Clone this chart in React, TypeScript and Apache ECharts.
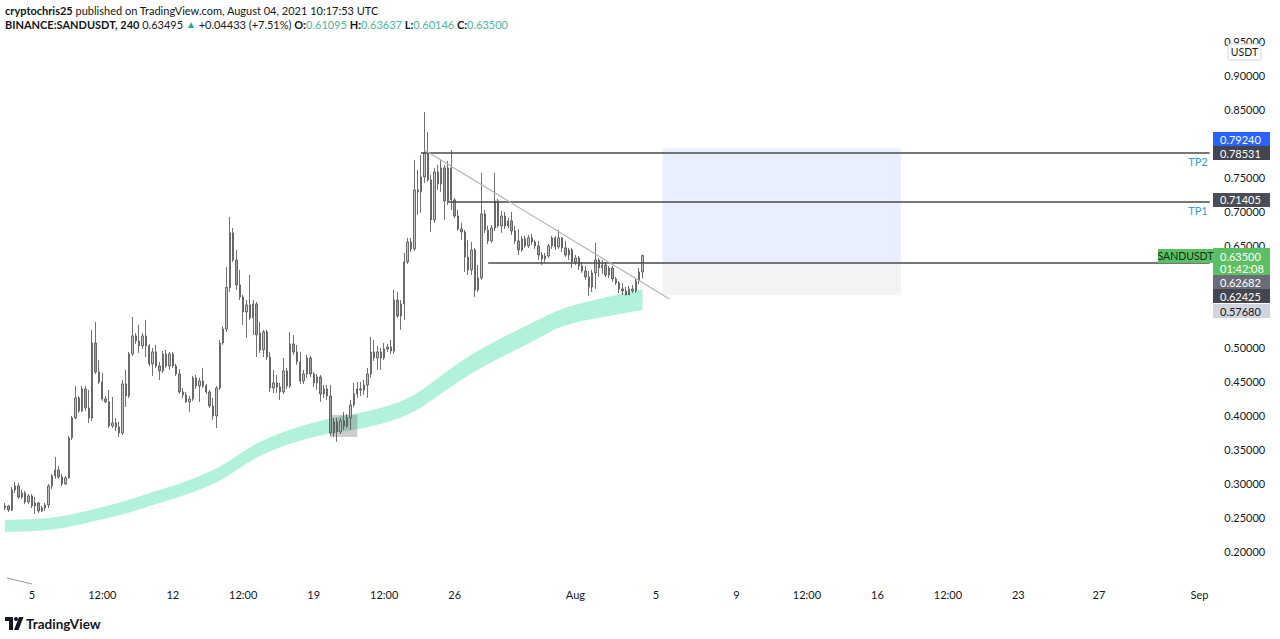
import React, { useEffect, useRef } from "react";
import * as echarts from "echarts";

// ---------- data ----------
const FIRST_CANDLE_UTC = Date.UTC(2021, 6, 3, 16, 0); // 4h candles
const SLOT_COUNT = 360;

const TIME_TICKS: [string, string][] = [
  ["2021-07-05 00:00", "5"],
  ["2021-07-08 12:00", "12:00"],
  ["2021-07-12 00:00", "12"],
  ["2021-07-15 12:00", "12:00"],
  ["2021-07-19 00:00", "19"],
  ["2021-07-22 12:00", "12:00"],
  ["2021-07-26 00:00", "26"],
  ["2021-08-01 00:00", "Aug"],
  ["2021-08-05 00:00", "5"],
  ["2021-08-09 00:00", "9"],
  ["2021-08-12 12:00", "12:00"],
  ["2021-08-16 00:00", "16"],
  ["2021-08-19 12:00", "12:00"],
  ["2021-08-23 00:00", "23"],
  ["2021-08-27 00:00", "27"],
  ["2021-09-01 00:00", "Sep"],
];

// price-axis levels hidden behind the price tags
const HIDDEN_LEVELS = [0.8, 0.6, 0.55];

// [open, close, low, high]
const CANDLES: number[][] = [
  [0.2645, 0.2675, 0.2616, 0.2719], [0.2675, 0.2616, 0.2587, 0.269], [0.2616, 0.291, 0.2601, 0.2954], [0.291, 0.2969, 0.2866, 0.3028],
  [0.2969, 0.2807, 0.2778, 0.3013], [0.2807, 0.2866, 0.2778, 0.291], [0.2866, 0.2734, 0.2704, 0.2896], [0.2734, 0.2822, 0.2704, 0.2851],
  [0.2822, 0.2675, 0.2645, 0.2851], [0.2675, 0.2719, 0.2557, 0.2807], [0.2719, 0.2601, 0.2572, 0.2734], [0.2601, 0.2645, 0.2587, 0.2675],
  [0.2645, 0.269, 0.2601, 0.2719], [0.269, 0.2969, 0.2645, 0.2998], [0.2969, 0.3116, 0.2925, 0.3145], [0.3116, 0.3204, 0.3072, 0.3395],
  [0.3204, 0.3101, 0.3072, 0.3263], [0.3101, 0.2998, 0.2969, 0.3145], [0.2998, 0.3087, 0.2984, 0.3116], [0.3087, 0.3674, 0.3072, 0.3703],
  [0.3674, 0.3967, 0.3644, 0.3996], [0.3967, 0.4261, 0.3952, 0.4437], [0.4261, 0.407, 0.404, 0.429], [0.407, 0.4393, 0.4055, 0.4437],
  [0.4393, 0.4114, 0.407, 0.4437], [0.4114, 0.3967, 0.3894, 0.4378], [0.3967, 0.5068, 0.3923, 0.5259], [0.5068, 0.4642, 0.4613, 0.5376],
  [0.4642, 0.4496, 0.4466, 0.4818], [0.4496, 0.4246, 0.4217, 0.4628], [0.4246, 0.4202, 0.4187, 0.429], [0.4202, 0.385, 0.382, 0.4378],
  [0.385, 0.3894, 0.382, 0.4275], [0.3894, 0.3835, 0.3776, 0.3967], [0.3835, 0.3747, 0.3688, 0.3908], [0.3747, 0.4466, 0.3718, 0.4525],
  [0.4466, 0.429, 0.4129, 0.4672], [0.429, 0.4906, 0.4261, 0.4936], [0.4906, 0.5171, 0.4877, 0.545], [0.5171, 0.5097, 0.5053, 0.5215],
  [0.5097, 0.5024, 0.4921, 0.5332], [0.5024, 0.5171, 0.498, 0.5215], [0.5171, 0.5024, 0.4862, 0.5406], [0.5024, 0.476, 0.473, 0.5053],
  [0.476, 0.4936, 0.4584, 0.4994], [0.4936, 0.473, 0.4701, 0.5039], [0.473, 0.4657, 0.4525, 0.4789], [0.4657, 0.4906, 0.4628, 0.495],
  [0.4906, 0.473, 0.4701, 0.4965], [0.473, 0.4906, 0.4672, 0.4936], [0.4906, 0.473, 0.4701, 0.4936], [0.473, 0.4613, 0.4584, 0.476],
  [0.4613, 0.4349, 0.4319, 0.4686], [0.4349, 0.4305, 0.4261, 0.4407], [0.4305, 0.4202, 0.4187, 0.4349], [0.4202, 0.4246, 0.4055, 0.429],
  [0.4246, 0.4554, 0.4217, 0.4584], [0.4554, 0.4437, 0.4393, 0.4598], [0.4437, 0.451, 0.4202, 0.4554], [0.451, 0.4437, 0.4407, 0.4701],
  [0.4437, 0.4349, 0.4319, 0.4466], [0.4349, 0.4143, 0.4114, 0.4378], [0.4143, 0.3996, 0.3938, 0.4261], [0.3996, 0.4407, 0.382, 0.4437],
  [0.4407, 0.5068, 0.4378, 0.5112], [0.5068, 0.5273, 0.5039, 0.5317], [0.5273, 0.5881, 0.5229, 0.6184], [0.5881, 0.6683, 0.5817, 0.6918],
  [0.6683, 0.6286, 0.6257, 0.6756], [0.6286, 0.5919, 0.5846, 0.6433], [0.5919, 0.5743, 0.5699, 0.614], [0.5743, 0.5523, 0.5332, 0.5773],
  [0.5523, 0.5626, 0.5141, 0.5699], [0.5626, 0.5435, 0.5406, 0.6066], [0.5435, 0.564, 0.5185, 0.5699], [0.564, 0.5185, 0.4862, 0.567],
  [0.5215, 0.4965, 0.4921, 0.5376], [0.4965, 0.5229, 0.4862, 0.5259], [0.5229, 0.4862, 0.4818, 0.5259], [0.4862, 0.4407, 0.4349, 0.4936],
  [0.4407, 0.4481, 0.4334, 0.4672], [0.4481, 0.4422, 0.4334, 0.4598], [0.4422, 0.4349, 0.4231, 0.4481], [0.4349, 0.4657, 0.4319, 0.4848],
  [0.4657, 0.4437, 0.4393, 0.4701], [0.4437, 0.5053, 0.4407, 0.5229], [0.5053, 0.4936, 0.4892, 0.5185], [0.4936, 0.4789, 0.4745, 0.5039],
  [0.4789, 0.451, 0.4466, 0.4936], [0.451, 0.4613, 0.4466, 0.4672], [0.4613, 0.4848, 0.4554, 0.4892], [0.4848, 0.4613, 0.4569, 0.4877],
  [0.4613, 0.4481, 0.4422, 0.4642], [0.4481, 0.4569, 0.4378, 0.4613], [0.4569, 0.4319, 0.4202, 0.4598], [0.4319, 0.4393, 0.4261, 0.4451],
  [0.4393, 0.429, 0.4231, 0.4451], [0.429, 0.3747, 0.3703, 0.4451], [0.3747, 0.3908, 0.3688, 0.3967], [0.3908, 0.3762, 0.3615, 0.3967],
  [0.3762, 0.3923, 0.3732, 0.3967], [0.3923, 0.385, 0.3791, 0.4055], [0.385, 0.3967, 0.382, 0.4026], [0.3967, 0.4158, 0.3791, 0.4231],
  [0.4158, 0.4319, 0.4129, 0.4481], [0.4319, 0.4393, 0.4261, 0.4496], [0.4393, 0.4378, 0.429, 0.4496], [0.4378, 0.4451, 0.4305, 0.4525],
  [0.4451, 0.4613, 0.4261, 0.4701], [0.4613, 0.4936, 0.4554, 0.5156], [0.4936, 0.4848, 0.4804, 0.5112], [0.4848, 0.4936, 0.4672, 0.5024],
  [0.4936, 0.4848, 0.4672, 0.4994], [0.4848, 0.498, 0.4818, 0.5068], [0.498, 0.5009, 0.4936, 0.5053], [0.5009, 0.495, 0.4906, 0.5112],
  [0.495, 0.5699, 0.4906, 0.5846], [0.5699, 0.5464, 0.5435, 0.5817], [0.5464, 0.564, 0.5259, 0.5699], [0.564, 0.6257, 0.5406, 0.6389],
  [0.6257, 0.6551, 0.6228, 0.661], [0.6551, 0.6448, 0.6404, 0.661], [0.6448, 0.7314, 0.6419, 0.7755], [0.7314, 0.7285, 0.6947, 0.7608],
  [0.7285, 0.7505, 0.6977, 0.7828], [0.7505, 0.7857, 0.7417, 0.8458], [0.7857, 0.7461, 0.7432, 0.8165], [0.7461, 0.6874, 0.6697, 0.7534],
  [0.6874, 0.7578, 0.6829, 0.7637], [0.7578, 0.7402, 0.7314, 0.7681], [0.7402, 0.7637, 0.7285, 0.7755], [0.7637, 0.7152, 0.6874, 0.7681],
  [0.7152, 0.7637, 0.7094, 0.774], [0.7637, 0.7167, 0.7021, 0.7901], [0.7167, 0.6932, 0.6903, 0.7196], [0.6932, 0.6741, 0.6712, 0.7021],
  [0.6741, 0.6697, 0.658, 0.6829], [0.6697, 0.633, 0.611, 0.6727], [0.633, 0.614, 0.6066, 0.658], [0.614, 0.6433, 0.6066, 0.6551],
  [0.6433, 0.5846, 0.5743, 0.6463], [0.5846, 0.6022, 0.5817, 0.6213], [0.6022, 0.6962, 0.5993, 0.7563], [0.6962, 0.6727, 0.6683, 0.7021],
  [0.6727, 0.6566, 0.6521, 0.6786], [0.6566, 0.6756, 0.6536, 0.68], [0.6756, 0.7152, 0.6712, 0.7563], [0.7152, 0.6786, 0.6756, 0.7182],
  [0.6786, 0.6932, 0.6683, 0.7006], [0.6932, 0.6786, 0.6741, 0.6991], [0.6786, 0.6859, 0.6756, 0.6903], [0.6859, 0.6712, 0.6653, 0.6991],
  [0.6712, 0.6566, 0.6521, 0.6786], [0.6566, 0.6433, 0.636, 0.6741], [0.6433, 0.6595, 0.6404, 0.6639], [0.6595, 0.6492, 0.6463, 0.6639],
  [0.6492, 0.661, 0.6463, 0.6653], [0.661, 0.6551, 0.6507, 0.6668], [0.6551, 0.6492, 0.6448, 0.658], [0.6492, 0.636, 0.6286, 0.6566],
  [0.636, 0.6301, 0.6213, 0.6404], [0.6301, 0.6345, 0.6257, 0.6389], [0.6345, 0.6492, 0.6316, 0.6521], [0.6492, 0.661, 0.6448, 0.6639],
  [0.661, 0.6478, 0.6433, 0.6639], [0.6478, 0.661, 0.6448, 0.6727], [0.661, 0.6463, 0.6404, 0.6624], [0.6463, 0.636, 0.633, 0.6566],
  [0.636, 0.6433, 0.6286, 0.6463], [0.6433, 0.6257, 0.6169, 0.6463], [0.6257, 0.6316, 0.6213, 0.636], [0.6316, 0.6198, 0.614, 0.6345],
  [0.6198, 0.6125, 0.6096, 0.6257], [0.6125, 0.6037, 0.5993, 0.6198], [0.6037, 0.589, 0.576, 0.6125], [0.589, 0.6096, 0.5817, 0.614],
  [0.6096, 0.6286, 0.5861, 0.6536], [0.6286, 0.6169, 0.6037, 0.6316], [0.6169, 0.6213, 0.6081, 0.6286], [0.6213, 0.6066, 0.6037, 0.6257],
  [0.6066, 0.6169, 0.6022, 0.6198], [0.6169, 0.6008, 0.5963, 0.6198], [0.6008, 0.5949, 0.5919, 0.6037], [0.5949, 0.5861, 0.5802, 0.5978],
  [0.5861, 0.5832, 0.5773, 0.5949], [0.5832, 0.5773, 0.5768, 0.589], [0.5773, 0.5861, 0.579, 0.5905], [0.5861, 0.5832, 0.5802, 0.5919],
  [0.5832, 0.5978, 0.5802, 0.6022], [0.5978, 0.611, 0.5934, 0.6169], [0.61095, 0.635, 0.60146, 0.63637],
];

// moving-average ribbon (candle index, upper, lower)
const BAND_INDEX = [0, 10, 18, 28, 36, 43, 52, 61, 67, 73, 79, 87, 97, 104, 111, 118, 124, 131, 139, 148, 157, 166, 178, 190];
const BAND_UPPER = [0.2469, 0.2484, 0.2528, 0.2646, 0.2748, 0.2866, 0.2998, 0.3174, 0.3335, 0.3541, 0.3688, 0.3835, 0.3967, 0.4026, 0.4099, 0.4202, 0.4363, 0.4628, 0.4906, 0.5141, 0.5361, 0.5582, 0.5728, 0.5861];
const BAND_LOWER = [0.2293, 0.2308, 0.2352, 0.247, 0.2558, 0.2675, 0.2807, 0.2969, 0.313, 0.3335, 0.3482, 0.3629, 0.3747, 0.3791, 0.3864, 0.3967, 0.4114, 0.4363, 0.4628, 0.4862, 0.5083, 0.5332, 0.545, 0.5552];

const TP2_PRICE = 0.78531;
const TP1_PRICE = 0.71405;
const ENTRY_PRICE = 0.62425;
const TARGET_PRICE = 0.7924;
const STOP_PRICE = 0.5768;
const TREND_LINE: [number, number][] = [[125, 0.79], [198, 0.5713]];
const LOW_ZONE: [number, number, number, number] = [97, 105, 0.4011, 0.3688];
const POSITION_RANGE: [number, number] = [196, 267];
const TP2_START = 124;
const TP1_START = 132;
const ENTRY_START = 144;

const AXIS_TAGS = ["0.79240", "0.78531", "0.71405", "0.63500", "0.62682", "0.62425", "0.57680"];
const COUNTDOWN = "01:42:08";
const SYMBOL = "SANDUSDT";

// ---------- helpers ----------
function pad(n: number) {
  return n < 10 ? "0" + n : "" + n;
}
function slotName(i: number) {
  const d = new Date(FIRST_CANDLE_UTC + i * 4 * 3600 * 1000);
  return `${d.getUTCFullYear()}-${pad(d.getUTCMonth() + 1)}-${pad(d.getUTCDate())} ${pad(d.getUTCHours())}:00`;
}
function smoothEdge(pts: number[][]) {
  // quadratic mid-point smoothing, path continues from the current point pts[0]
  let d = "";
  const n = pts.length;
  if (n < 3) {
    for (let k = 1; k < n; k++) d += ` L ${pts[k][0]} ${pts[k][1]}`;
    return d;
  }
  d += ` L ${(pts[0][0] + pts[1][0]) / 2} ${(pts[0][1] + pts[1][1]) / 2}`;
  for (let k = 1; k < n - 1; k++) {
    const mx = (pts[k][0] + pts[k + 1][0]) / 2;
    const my = (pts[k][1] + pts[k + 1][1]) / 2;
    d += ` Q ${pts[k][0]} ${pts[k][1]} ${mx} ${my}`;
  }
  d += ` L ${pts[n - 1][0]} ${pts[n - 1][1]}`;
  return d;
}

const FONT = "Lato, 'Noto Sans', sans-serif";

export default function App() {
  const ref = useRef<HTMLDivElement>(null);

  useEffect(() => {
    if (!ref.current) return;
    const chart = echarts.init(ref.current, undefined, { renderer: "svg" });
    const cats: string[] = [];
    for (let i = 0; i < SLOT_COUNT; i++) cats.push(slotName(i));
    const tickMap: Record<string, string> = {};
    TIME_TICKS.forEach(([k, v]) => (tickMap[k] = v));

    const lineStyle = { color: "#4a4a4a", width: 1.5, type: "solid" as const };
    const Z = 100;

    const tagRect = (y: number, h: number, bg: string) => ({
      type: "rect",
      z: Z,
      shape: { x: 1213, y, width: 57, height: h },
      style: { fill: bg },
    });
    const tagText = (t: string, y: number, fill: string) => ({
      type: "text",
      z: Z + 1,
      style: { text: t, x: 1220, y, fill, font: `11px ${FONT}`, verticalAlign: "middle" },
    });

    const option: any = {
      animation: false,
      backgroundColor: "#ffffff",
      grid: { left: 3.3, right: 68.7, top: 41, bottom: 53, containLabel: false },
      xAxis: {
        type: "category",
        data: cats,
        boundaryGap: true,
        axisLine: { show: false },
        axisTick: { show: false },
        splitLine: { show: false },
        axisLabel: {
          interval: (_i: number, v: string) => tickMap[v] !== undefined,
          formatter: (v: string) => tickMap[v] || "",
          color: "#131722",
          fontSize: 11,
          fontFamily: FONT,
          margin: 3,
        },
      },
      yAxis: {
        type: "value",
        position: "right",
        min: 0.15,
        max: 0.95,
        interval: 0.05,
        axisLine: { show: false },
        axisTick: { show: false },
        splitLine: { show: false },
        axisLabel: {
          formatter: (v: number) => (HIDDEN_LEVELS.some((h) => Math.abs(h - v) < 1e-6) ? "" : v.toFixed(5)),
          showMinLabel: false,
          color: "#131722",
          fontSize: 11,
          fontFamily: FONT,
          margin: 13,
        },
      },
      series: [
        {
          type: "custom",
          name: "ribbon",
          z: 0,
          silent: true,
          data: [[0, BAND_UPPER[0]]],
          renderItem: (_p: any, api: any) => {
            const up = BAND_INDEX.map((ix, k) => api.coord([ix, BAND_UPPER[k]]));
            const lo = BAND_INDEX.map((ix, k) => api.coord([ix, BAND_LOWER[k]])).reverse();
            let d = `M ${up[0][0]} ${up[0][1]}` + smoothEdge(up);
            d += ` L ${lo[0][0]} ${lo[0][1]}` + smoothEdge(lo) + " Z";
            return {
              type: "path",
              shape: { pathData: d },
              style: { fill: "#b3f2da" },
            };
          },
        },
        {
          type: "candlestick",
          name: "SANDUSDT",
          z: 3,
          data: CANDLES,
          barWidth: "55%",
          itemStyle: {
            color: "#c4c4c4",
            color0: "#9c9c9c",
            borderColor: "#4d4d4d",
            borderColor0: "#4d4d4d",
            borderWidth: 0.8,
          },
          markArea: {
            silent: true,
            z: 2,
            data: [
              [
                { coord: [cats[POSITION_RANGE[0]], TARGET_PRICE], itemStyle: { color: "rgba(41,98,255,0.1)" } },
                { coord: [cats[POSITION_RANGE[1]], ENTRY_PRICE] },
              ],
              [
                { coord: [cats[POSITION_RANGE[0]], ENTRY_PRICE], itemStyle: { color: "rgba(120,123,134,0.09)" } },
                { coord: [cats[POSITION_RANGE[1]], STOP_PRICE] },
              ],
              [
                { coord: [cats[LOW_ZONE[0]], LOW_ZONE[2]], itemStyle: { color: "rgba(110,110,110,0.35)" } },
                { coord: [cats[LOW_ZONE[1]], LOW_ZONE[3]] },
              ],
            ],
          },
          markLine: {
            silent: true,
            symbol: ["none", "none"],
            animation: false,
            data: [
              [
                {
                  coord: [cats[TP2_START], TP2_PRICE],
                  lineStyle,
                  label: { show: true, formatter: "TP2", position: "insideEndBottom", color: "#3a9ad6", fontSize: 11, fontFamily: FONT, distance: [2, 3] },
                },
                { coord: [cats[SLOT_COUNT - 1], TP2_PRICE] },
              ],
              [
                {
                  coord: [cats[TP1_START], TP1_PRICE],
                  lineStyle,
                  label: { show: true, formatter: "TP1", position: "insideEndBottom", color: "#3a9ad6", fontSize: 11, fontFamily: FONT, distance: [2, 3] },
                },
                { coord: [cats[SLOT_COUNT - 1], TP1_PRICE] },
              ],
              [
                { coord: [cats[ENTRY_START], ENTRY_PRICE], lineStyle, label: { show: false } },
                { coord: [cats[SLOT_COUNT - 1], ENTRY_PRICE] },
              ],
              [
                { coord: [cats[TREND_LINE[0][0]], TREND_LINE[0][1]], lineStyle: { color: "#b2b5be", width: 1.2, type: "solid" }, label: { show: false } },
                { coord: [cats[TREND_LINE[1][0]], TREND_LINE[1][1]] },
              ],
            ],
          },
        },
      ],
      graphic: [
        {
          type: "text",
          z: Z,
          style: {
            x: 5,
            y: 10,
            verticalAlign: "middle",
            text: "{b|cryptochris25} published on TradingView.com, August 04, 2021 10:17:53 UTC",
            fill: "#131722",
            font: `11px ${FONT}`,
            rich: { b: { fontWeight: "bold", fill: "#131722", fontSize: 11, fontFamily: FONT } },
          },
        },
        {
          type: "text",
          z: Z,
          style: {
            x: 5,
            y: 24,
            verticalAlign: "middle",
            text:
              "{b|BINANCE:SANDUSDT, 240} 0.63495 {g|▲} +0.04433 (+7.51%) {b|O:}{v|0.61095} {b|H:}{v|0.63637} {b|L:}{v|0.60146} {b|C:}{v|0.63500}",
            fill: "#131722",
            font: `11px ${FONT}`,
            rich: {
              b: { fontWeight: "bold", fill: "#131722", fontSize: 11, fontFamily: FONT },
              v: { fill: "#4fb3a3", fontSize: 11, fontFamily: FONT },
              g: { fill: "#26a69a", fontSize: 10, fontFamily: FONT },
            },
          },
        },
        // USDT currency box
        { type: "rect", z: Z, shape: { x: 1228, y: 44, width: 33, height: 16, r: 2 }, style: { fill: "#ffffff", stroke: "#d1d4dc", lineWidth: 1 } },
        { type: "text", z: Z + 1, style: { text: "USDT", x: 1244.5, y: 52, align: "center", verticalAlign: "middle", fill: "#131722", font: `10.5px ${FONT}` } },
        // price tags on the axis
        tagRect(132, 14, "#2962ff"),
        tagText(AXIS_TAGS[0], 139, "#ffffff"),
        tagRect(146, 14, "#434651"),
        tagText(AXIS_TAGS[1], 153, "#ffffff"),
        tagRect(193, 14, "#4a4d57"),
        tagText(AXIS_TAGS[2], 199.5, "#ffffff"),
        { type: "rect", z: Z, shape: { x: 1158, y: 249, width: 55, height: 14 }, style: { fill: "#5cbf66" } },
        { type: "text", z: Z + 1, style: { text: SYMBOL, x: 1185.5, y: 256, align: "center", verticalAlign: "middle", fill: "#10300f", font: `10.5px ${FONT}` } },
        tagRect(248, 27, "#5cbf66"),
        tagText(AXIS_TAGS[3], 256, "#ffffff"),
        tagText(COUNTDOWN, 268, "#ffffff"),
        tagRect(275, 14, "#6a6d78"),
        tagText(AXIS_TAGS[4], 282, "#ffffff"),
        tagRect(289, 14, "#434651"),
        tagText(AXIS_TAGS[5], 296, "#ffffff"),
        tagRect(304, 14, "#d1d4dc"),
        tagText(AXIS_TAGS[6], 311, "#131722"),
        // small stroke bottom-left
        { type: "line", z: Z, shape: { x1: 7, y1: 578, x2: 32, y2: 584 }, style: { stroke: "#9598a1", lineWidth: 1 } },
        // TradingView logo
        { type: "polygon", z: Z, shape: { points: [[5, 617], [13, 617], [13, 630], [9, 630], [9, 621], [5, 621]] }, style: { fill: "#131722" } },
        { type: "circle", z: Z, shape: { cx: 16, cy: 619, r: 2 }, style: { fill: "#131722" } },
        { type: "polygon", z: Z, shape: { points: [[19, 617], [23.5, 617], [18.5, 630], [14, 630]] }, style: { fill: "#131722" } },
        { type: "text", z: Z, style: { text: "TradingView", x: 26, y: 623.5, verticalAlign: "middle", fill: "#131722", font: `bold 13.5px ${FONT}` } },
      ],
    };

    chart.setOption(option);
    return () => chart.dispose();
  }, []);

  return (
    <div
      ref={ref}
      style={{ position: "fixed", left: 0, top: 0, width: 1280, height: 639, background: "#ffffff" }}
    />
  );
}
